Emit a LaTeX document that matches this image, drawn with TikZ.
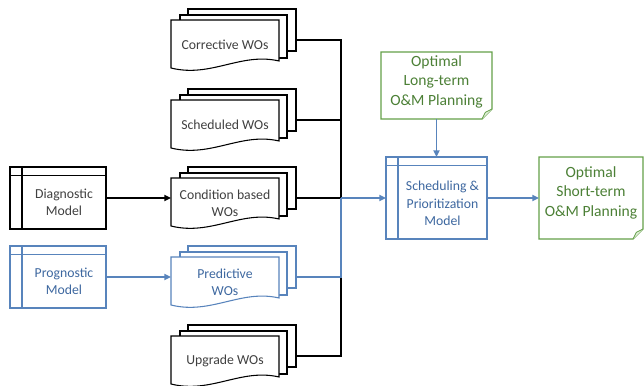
\documentclass[tikz,border=0pt]{standalone}
\usepackage{fontspec}
\setmainfont{Carlito}
\usetikzlibrary{positioning}
\usetikzlibrary{calc,arrows.meta}

\definecolor{wogray}{RGB}{64,64,64}
\definecolor{woblue}{RGB}{88,132,188}
\definecolor{wobluetext}{RGB}{62,104,160}
\definecolor{wogreen}{RGB}{100,160,72}
\definecolor{wogreentext}{RGB}{76,128,54}
\definecolor{wofold}{RGB}{226,239,218}

\newcommand{\wofont}{\fontsize{10.3}{13}\selectfont}
\newcommand{\notefont}{\fontsize{11.7}{14.6}\selectfont}

% stack of three work order sheets, #2,#3 = top left of the front sheet
\newcommand{\wostack}[6]{%
  \begin{scope}[shift={(#2,#3)}]
    \filldraw[draw=#4, fill=white, line width=0.8pt] (17,-11) rectangle (125,31);
    \filldraw[draw=#4, fill=white, line width=0.8pt] (9,-5) rectangle (116,38);
    \filldraw[draw=#4, fill=white, line width=0.8pt] (0,0) -- (108,0) -- (108,41)
      .. controls (70,32) and (40,58) .. (0,48) -- cycle;
    \coordinate (#1-in) at (0,20);
    \coordinate (#1-out) at (125,20);
  \end{scope}
  \node[text=#5, align=center, font=\wofont] (#1) at (#2+54,#3+25) {#6};
}

% outline with turned corner round an empty node
\newcommand{\notedoc}[1]{%
  \draw[wogreen, line width=0.8pt] (#1.north west) -- (#1.north east)
    -- ([yshift=7.5pt]#1.south east) -- ([xshift=-7.5pt]#1.south east)
    -- (#1.south west) -- cycle;
  \filldraw[draw=wogreen, fill=wofold, line width=0.6pt] ([xshift=-7.5pt]#1.south east)
    .. controls ([xshift=-6.5pt,yshift=3pt]#1.south east) .. ([xshift=-5pt,yshift=5pt]#1.south east)
    -- ([yshift=7.5pt]#1.south east);
}

\begin{document}
\begin{tikzpicture}[x=0.75pt,y=-0.75pt,
    procbox/.style={draw=#1, fill=white, line width=0.8pt, minimum width=72pt,
      minimum height=46.5pt, outer sep=0pt,
      path picture={\draw[#1, line width=0.8pt]
        ([xshift=9pt]path picture bounding box.north west)
          -- ([xshift=9pt]path picture bounding box.south west)
        ([yshift=-6.5pt]path picture bounding box.north west)
          -- ([yshift=-6.5pt]path picture bounding box.north east);}},
    boxtext/.style={text=#1, align=center, font=\wofont, xshift=4.5pt, yshift=-3pt},
    notebox/.style={outer sep=0pt, inner sep=0pt},
    notetext/.style={text=wogreentext, align=center, font=\notefont, yshift=3pt},
    wire/.style={line width=1.2pt, draw=#1},
    arr/.style={-{Triangle[length=5pt,width=4.5pt]}}]
  \useasboundingbox (0,0) rectangle (644,386);

  % models on the left
  \node[procbox=black, label={[boxtext=wogray]center:{Diagnostic\\Model}}] (diag) at (58,198) {};
  \node[procbox=woblue, label={[boxtext=wobluetext]center:{Prognostic\\Model}}] (prog) at (58,277) {};

  % work orders
  \wostack{corrwo}{171}{20}{black}{wogray}{Corrective WOs}
  \wostack{schedwo}{171}{100}{black}{wogray}{Scheduled WOs}
  \wostack{condwo}{171}{178}{black}{wogray}{Condition based\\WOs}
  \wostack{predwo}{171}{257}{woblue}{wobluetext}{Predictive\\WOs}
  \wostack{upgwo}{171}{336}{black}{wogray}{Upgrade WOs}

  \node[procbox=woblue, minimum width=75.75pt, minimum height=61.5pt,
    label={[boxtext=wobluetext, yshift=-1pt]center:{Scheduling \&\\Prioritization\\Model}}] (prio) at (436.5,198) {};

  \node[notebox, minimum width=83.25pt, minimum height=50.25pt,
    label={[notetext]center:{Optimal\\Long-term\\O\&M Planning}}] (ltplan) at (436.5,85.5) {};
  \notedoc{ltplan}
  \node[notebox, minimum width=78pt, minimum height=61.5pt,
    label={[notetext, yshift=1pt]center:{Optimal\\Short-term\\O\&M Planning}}] (stplan) at (591,198) {};
  \notedoc{stplan}

  \coordinate (merge) at (341,198);
  \coordinate (predjoin) at (predwo-out -| merge);

  \draw[wire=black, arr] (diag.east) -- (condwo-in);
  \draw[wire=woblue, arr] (prog.east) -- (predwo-in);

  \draw[wire=black] (corrwo-out) -| (merge);
  \draw[wire=black] (schedwo-out) -| (merge);
  \draw[wire=black] (condwo-out) -- (merge);
  \draw[wire=black] (upgwo-out) -| (predjoin);
  \draw[wire=woblue] (predwo-out) -| (merge);

  \draw[wire=woblue, arr] (merge) -- (prio.west);
  \draw[wire=woblue, arr] (ltplan.south) -- (prio.north);
  \draw[wire=woblue, arr] (prio.east) -- (stplan.west);
\end{tikzpicture}
\end{document}
